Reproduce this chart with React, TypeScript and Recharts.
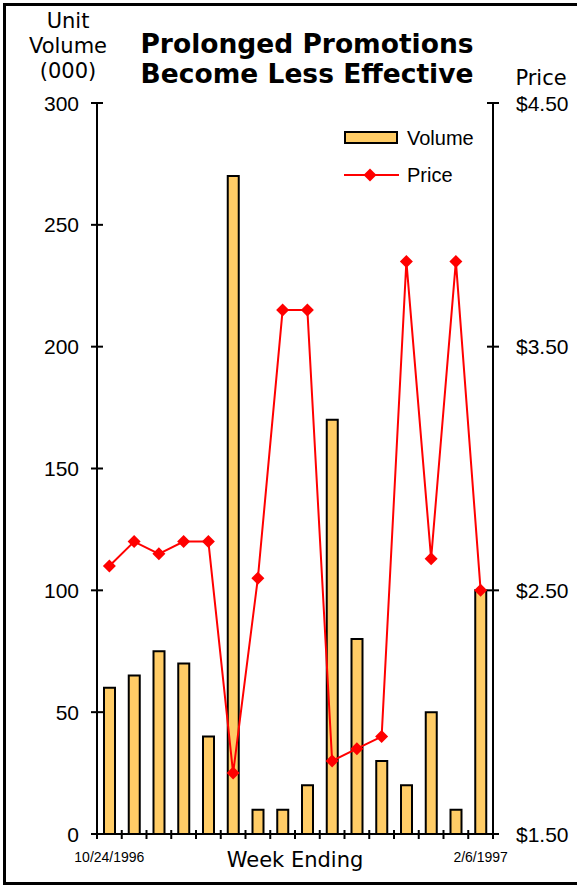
import React from 'react';
import { ComposedChart, Bar, Line, XAxis, YAxis, Legend } from 'recharts';

const weeks = ['10/24/1996','10/31/1996','11/7/1996','11/14/1996','11/21/1996','11/28/1996','12/5/1996','12/12/1996','12/19/1996','12/26/1996','1/2/1997','1/9/1997','1/16/1997','1/23/1997','1/30/1997','2/6/1997'];
const volume = [60, 65, 75, 70, 40, 270, 10, 10, 20, 170, 80, 30, 20, 50, 10, 100];
const price = [2.6, 2.7, 2.65, 2.7, 2.7, 1.75, 2.55, 3.65, 3.65, 1.8, 1.85, 1.9, 3.85, 2.63, 3.85, 2.5];
const leftTicks = [0, 50, 100, 150, 200, 250, 300];
const rightTicks = [1.5, 2.5, 3.5, 4.5];

const data = weeks.map((w, i) => ({ week: w, volume: volume[i], price: price[i] }));

const SANS = '"Liberation Sans", Arial, sans-serif';
const VERD = '"DejaVu Sans", Verdana, sans-serif';

const LeftTick = (props: any) => {
  const { x, y, payload } = props;
  return (
    <g>
      <line x1={x - 6} x2={x + 6} y1={y} y2={y} stroke="#000" strokeWidth={2} />
      <text x={x - 18} y={y} textAnchor="end" dominantBaseline="central" fontFamily={SANS} fontSize={21} fill="#000">
        {payload.value}
      </text>
    </g>
  );
};

const RightTick = (props: any) => {
  const { x, y, payload } = props;
  return (
    <g>
      <line x1={x - 6} x2={x + 6} y1={y} y2={y} stroke="#000" strokeWidth={2} />
      <text x={x + 23} y={y} textAnchor="start" dominantBaseline="central" fontFamily={SANS} fontSize={21} fill="#000">
        {'$' + Number(payload.value).toFixed(2)}
      </text>
    </g>
  );
};

const BottomTick = (props: any) => {
  const { x, y, payload, index, visibleTicksCount } = props;
  const half = payload.offset || 12.3;
  const last = index === visibleTicksCount - 1;
  const showLabel = index === 0 || last;
  return (
    <g>
      <line x1={x - half} x2={x - half} y1={y - 4} y2={y + 5} stroke="#000" strokeWidth={2} />
      {last && <line x1={x + half} x2={x + half} y1={y - 4} y2={y + 5} stroke="#000" strokeWidth={2} />}
      {showLabel && (
        <text x={x} y={y + 28} textAnchor="middle" fontFamily={SANS} fontSize={14} fill="#000">
          {payload.value}
        </text>
      )}
    </g>
  );
};

const Diamond = (props: any) => {
  const { cx, cy } = props;
  if (cx == null || cy == null) return null;
  return <polygon points={`${cx},${cy - 6.5} ${cx + 6.5},${cy} ${cx},${cy + 6.5} ${cx - 6.5},${cy}`} fill="#FF0000" stroke="none" />;
};

const LegendContent = () => (
  <div style={{ fontFamily: SANS, fontSize: 20, color: '#000' }}>
    <div style={{ display: 'flex', alignItems: 'center', height: 24 }}>
      <svg width={56} height={14} style={{ marginRight: 7 }}>
        <rect x={1} y={1} width={52} height={11} fill="#FFCC66" stroke="#000" strokeWidth={2} />
      </svg>
      <span>Volume</span>
    </div>
    <div style={{ display: 'flex', alignItems: 'center', height: 24, marginTop: 13 }}>
      <svg width={56} height={14} style={{ marginRight: 7 }}>
        <line x1={0} x2={55} y1={7} y2={7} stroke="#FF0000" strokeWidth={2} />
        <polygon points="26,0.5 32.5,7 26,13.5 19.5,7" fill="#FF0000" />
      </svg>
      <span>Price</span>
    </div>
  </div>
);

export default function App() {
  return (
    <div style={{ position: 'absolute', left: 0, top: 0, width: 577, height: 885, overflow: 'hidden', background: '#fff' }}>
      <div style={{ position: 'absolute', left: 3, top: 3, width: 620, height: 876, border: '3px solid #000' }} />
      <div style={{ position: 'absolute', left: 0, top: 0 }}>
        <ComposedChart width={577} height={885} data={data} margin={{ top: 103, right: 0, bottom: 21, left: 0 }}>
          <XAxis
            dataKey="week"
            xAxisId="x"
            interval={0}
            height={30}
            tickSize={0}
            tickMargin={0}
            tickLine={false}
            axisLine={{ stroke: '#000', strokeWidth: 2 }}
            tick={<BottomTick />}
          />
          <YAxis
            yAxisId="left"
            orientation="left"
            width={97}
            domain={[0, 300]}
            ticks={leftTicks}
            tickSize={0}
            tickMargin={0}
            tickLine={false}
            axisLine={{ stroke: '#000', strokeWidth: 2 }}
            tick={<LeftTick />}
            allowDataOverflow
          />
          <YAxis
            yAxisId="right"
            orientation="right"
            width={84}
            domain={[1.5, 4.5]}
            ticks={rightTicks}
            tickSize={0}
            tickMargin={0}
            tickLine={false}
            axisLine={{ stroke: '#000', strokeWidth: 2 }}
            tick={<RightTick />}
            allowDataOverflow
          />
          <Legend
            layout="horizontal"
            verticalAlign="middle"
            align="center"
            wrapperStyle={{ left: 344, top: 126, width: 160 }}
            content={<LegendContent />}
          />
          <Bar dataKey="volume" name="Volume" xAxisId="x" yAxisId="left" barSize={11} fill="#FFCC66" stroke="#000" strokeWidth={2} isAnimationActive={false} />
          <Line dataKey="price" name="Price" xAxisId="x" yAxisId="right" type="linear" stroke="#FF0000" strokeWidth={2} dot={<Diamond />} activeDot={false} isAnimationActive={false} />
        </ComposedChart>
      </div>
      <div style={{ position: 'absolute', left: 8, top: 9, width: 120, textAlign: 'center', fontFamily: VERD, fontSize: 21, lineHeight: '25px', color: '#000' }}>
        Unit<br />Volume<br />(000)
      </div>
      <div style={{ position: 'absolute', left: 130, top: 29, width: 354, textAlign: 'center', fontFamily: VERD, fontWeight: 'bold', fontSize: 26.5, lineHeight: '30px', color: '#000', whiteSpace: 'nowrap' }}>
        Prolonged Promotions<br />Become Less Effective
      </div>
      <div style={{ position: 'absolute', left: 500, top: 66, width: 82, textAlign: 'center', fontFamily: VERD, fontSize: 21, lineHeight: '25px', color: '#000' }}>
        Price
      </div>
      <div style={{ position: 'absolute', left: 195, top: 848, width: 200, textAlign: 'center', fontFamily: VERD, fontSize: 21, lineHeight: '25px', color: '#000' }}>
        Week Ending
      </div>
    </div>
  );
}
